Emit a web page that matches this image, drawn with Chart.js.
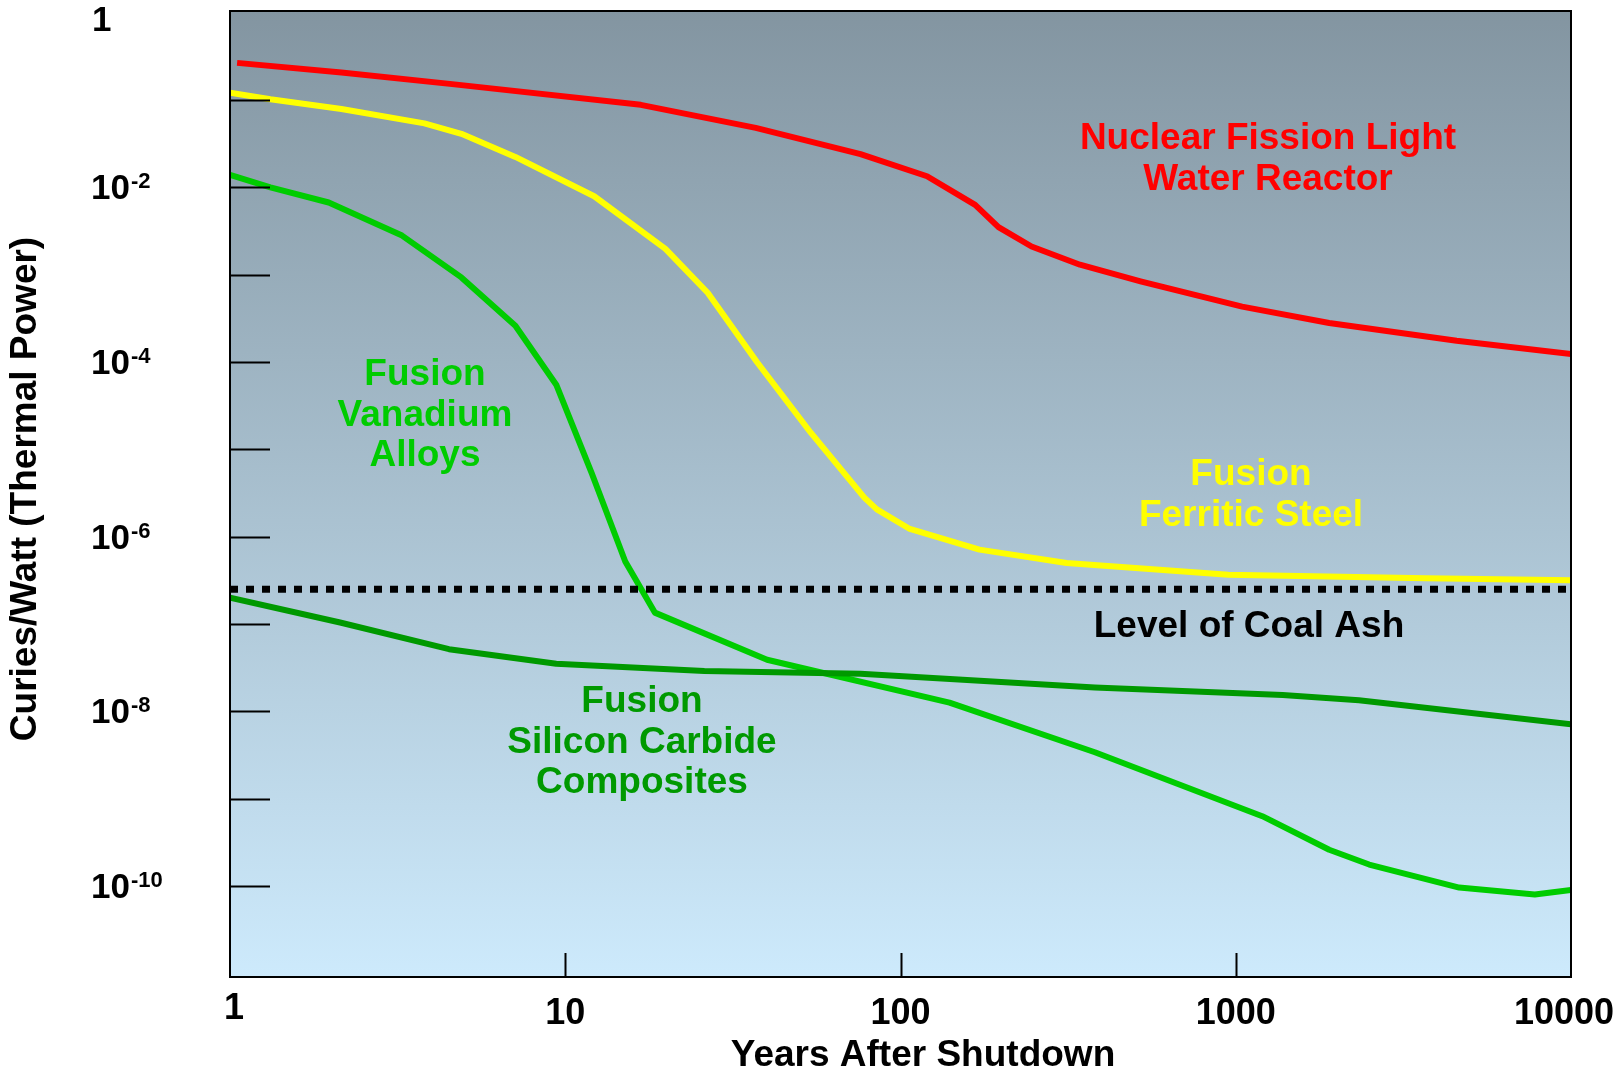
<!DOCTYPE html>
<html lang="en">
<head>
  <meta charset="UTF-8" />
  <title>Curies/Watt after shutdown</title>
  <script src="https://cdn.jsdelivr.net/npm/chart.js"></script>
  <style>
    html, body { margin: 0; padding: 0; background: #fff; }
    canvas { display: block; }
  </style>
</head>
<body>

  <canvas id="graphDecay" width="1617" height="1073"></canvas>

  <script>
    // Years after shutdown and activity (Curies/Watt thermal) for each material
    const fissionYears  = [1.05, 2.15, 4.6, 16.8, 37, 76, 120, 167, 196, 246, 343, 520, 1045, 1900, 4560, 10000];
    const fissionLevels = [0.266, 0.207, 0.152, 0.088, 0.048, 0.024, 0.0134, 0.0063, 0.0035, 0.0021, 0.0013, 0.00084, 0.00043, 0.00028, 0.000175, 0.000123];

    const ferriticYears  = [1, 1.32, 2.15, 3.8, 4.9, 7.1, 12.2, 19.9, 26.6, 37.3, 54, 78, 85, 106, 172, 313, 950, 3700, 10000];
    const ferriticLevels = [0.121, 0.102, 0.079, 0.054, 0.041, 0.0223, 0.0079, 0.00197, 0.00062, 0.0001, 1.55e-5, 2.8e-6, 2.05e-6, 1.24e-6, 7.1e-7, 5e-7, 3.66e-7, 3.33e-7, 3.16e-7];

    const vanadiumYears  = [1, 1.32, 1.97, 3.26, 4.9, 7.1, 9.4, 12, 15.1, 18.5, 40, 140, 380, 1200, 1900, 2500, 4640, 7800, 10000];
    const vanadiumLevels = [0.0139, 0.01, 0.0067, 0.0028, 0.00093, 0.00026, 5.5e-5, 5.3e-6, 5.2e-7, 1.35e-7, 3.9e-8, 1.26e-8, 3.4e-9, 6.3e-10, 2.6e-10, 1.76e-10, 9.6e-11, 8e-11, 9e-11];

    const carbideYears  = [1, 2.13, 4.5, 9.4, 26, 76, 380, 1380, 2330, 10000];
    const carbideLevels = [2e-7, 1.04e-7, 5.15e-8, 3.5e-8, 2.9e-8, 2.7e-8, 1.87e-8, 1.54e-8, 1.34e-8, 7.1e-9];

    const coalAshLevel = 2.5e-7;

    // axis ticks
    const xTickYears   = [10, 100, 1000];
    const xLabelYears  = [1, 10, 100, 1000, 10000];
    const yTickPowers  = [-1, -2, -3, -4, -5, -6, -7, -8, -9, -10];
    const yLabelPowers = [0, -2, -4, -6, -8, -10];

    const FONT = '"Liberation Sans", Arial, Helvetica, sans-serif';

    function paires(xs, ys) {
      return xs.map((x, i) => ({ x, y: ys[i] }));
    }

    // text labels placed beside the curves
    const etiquettes = [
      { lignes: ['Nuclear Fission Light', 'Water Reactor'], couleur: '#ff0000', x: 1268, y: 136 },
      { lignes: ['Fusion', 'Ferritic Steel'], couleur: '#ffff00', x: 1251, y: 472 },
      { lignes: ['Fusion', 'Vanadium', 'Alloys'], couleur: '#00cc00', x: 425, y: 372 },
      { lignes: ['Fusion', 'Silicon Carbide', 'Composites'], couleur: '#009900', x: 642, y: 699 },
      { lignes: ['Level of Coal Ash'], couleur: '#000000', x: 1249, y: 624 }
    ];

    const decor = {
      id: 'decor',
      beforeDatasetsDraw(chart) {
        const { ctx, chartArea: a } = chart;
        const grad = ctx.createLinearGradient(0, a.top, 0, a.bottom);
        grad.addColorStop(0, '#8395a1');
        grad.addColorStop(1, '#cdeafc');
        ctx.save();
        ctx.fillStyle = grad;
        ctx.fillRect(a.left, a.top, a.right - a.left, a.bottom - a.top);
        ctx.restore();
      },
      afterDatasetsDraw(chart) {
        const { ctx, chartArea: a, scales } = chart;
        const sx = scales.x, sy = scales.y;
        ctx.save();

        // frame
        ctx.strokeStyle = '#000';
        ctx.lineWidth = 2;
        ctx.strokeRect(a.left, a.top, a.right - a.left, a.bottom - a.top);

        // inward tick marks
        ctx.beginPath();
        yTickPowers.forEach(p => {
          const y = Math.round(sy.getPixelForValue(Math.pow(10, p))) + 0.5;
          ctx.moveTo(a.left, y);
          ctx.lineTo(a.left + 40, y);
        });
        xTickYears.forEach(v => {
          const x = Math.round(sx.getPixelForValue(v)) + 0.5;
          ctx.moveTo(x, a.bottom);
          ctx.lineTo(x, a.bottom - 24);
        });
        ctx.stroke();

        ctx.fillStyle = '#000';
        ctx.textBaseline = 'alphabetic';

        // y labels: powers of ten with superscript exponent
        yLabelPowers.forEach(p => {
          const y = sy.getPixelForValue(Math.pow(10, p));
          const base = Math.max(y, 19) + 12;
          ctx.textAlign = 'left';
          ctx.font = 'bold 35px ' + FONT;
          if (p === 0) {
            ctx.fillText('1', 92, base);
            return;
          }
          ctx.fillText('10', 91, base);
          const w = ctx.measureText('10').width;
          ctx.font = 'bold 22px ' + FONT;
          ctx.fillText('-' + (-p), 91 + w + 1, base - 11);
        });

        // x labels
        ctx.font = 'bold 36px ' + FONT;
        ctx.textAlign = 'center';
        xLabelYears.forEach(v => {
          const w = ctx.measureText(String(v)).width;
          let x = sx.getPixelForValue(v);
          x = Math.min(x, chart.width - 3 - w / 2);
          const base = (v === 1 ? 1006 : 1011) + 13;
          ctx.fillText(String(v), x + (v === 1 ? 4 : 0), base);
        });

        // axis titles
        ctx.font = 'bold 37px ' + FONT;
        ctx.fillText('Years After Shutdown', 923, 1066);
        ctx.save();
        ctx.translate(36, 489);
        ctx.rotate(-Math.PI / 2);
        ctx.fillText('Curies/Watt (Thermal Power)', 0, 0);
        ctx.restore();

        // curve labels
        ctx.font = 'bold 37px ' + FONT;
        etiquettes.forEach(e => {
          ctx.fillStyle = e.couleur;
          e.lignes.forEach((t, i) => {
            ctx.fillText(t, e.x, e.y + i * 40.5 + 13);
          });
        });

        ctx.restore();
      }
    };

    function serie(label, xs, ys, couleur, largeur) {
      return {
        label,
        data: paires(xs, ys),
        borderColor: couleur,
        borderWidth: largeur,
        pointRadius: 0,
        fill: false,
        tension: 0,
        borderJoinStyle: 'round'
      };
    }

    new Chart(document.getElementById('graphDecay'), {
      type: 'line',
      data: {
        datasets: [
          {
            label: 'Level of Coal Ash',
            data: [{ x: 1, y: coalAshLevel }, { x: 10000, y: coalAshLevel }],
            borderColor: '#000',
            borderWidth: 7,
            borderDash: [8, 8],
            borderCapStyle: 'butt',
            pointRadius: 0,
            fill: false
          },
          serie('Fusion Silicon Carbide Composites', carbideYears, carbideLevels, '#009900', 6),
          serie('Fusion Vanadium Alloys', vanadiumYears, vanadiumLevels, '#00cc00', 6),
          serie('Fusion Ferritic Steel', ferriticYears, ferriticLevels, '#ffff00', 6),
          serie('Nuclear Fission Light Water Reactor', fissionYears, fissionLevels, '#ff0000', 6)
        ]
      },
      options: {
        responsive: false,
        devicePixelRatio: 1,
        animation: false,
        layout: { padding: { left: 230, top: 11, right: 46, bottom: 96 } },
        plugins: {
          legend: { display: false },
          tooltip: { enabled: false }
        },
        scales: {
          x: {
            type: 'logarithmic',
            display: false,
            min: 1,
            max: 10000
          },
          y: {
            type: 'logarithmic',
            display: false,
            min: Math.pow(10, -11.042),
            max: Math.pow(10, 0.019)
          }
        }
      },
      plugins: [decor]
    });
  </script>

</body>
</html>
